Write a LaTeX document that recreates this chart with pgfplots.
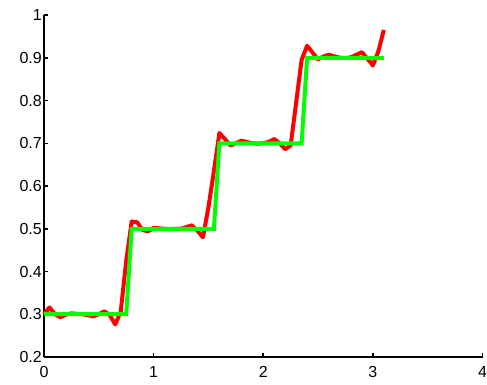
\documentclass[border=0pt]{standalone}
\usepackage{pgfplots}
\pgfplotsset{compat=1.18}
\usepackage{fontspec}
\setmainfont{Liberation Sans}

% Fourier-type approximation of the quantised ramp, sampled every 0.05
\pgfplotstableread{
x     y
0.00  0.300
0.05  0.316
0.10  0.300
0.15  0.293
0.20  0.299
0.25  0.302
0.30  0.301
0.35  0.300
0.40  0.298
0.45  0.295
0.50  0.300
0.55  0.307
0.60  0.298
0.65  0.276
0.70  0.306
0.75  0.425
0.80  0.517
0.85  0.515
0.90  0.497
0.95  0.494
1.00  0.502
1.05  0.501
1.10  0.500
1.15  0.499
1.20  0.500
1.25  0.500
1.30  0.504
1.35  0.508
1.40  0.495
1.45  0.480
1.50  0.550
1.55  0.635
1.60  0.724
1.65  0.710
1.70  0.695
1.75  0.700
1.80  0.706
1.85  0.703
1.90  0.700
1.95  0.699
2.00  0.700
2.05  0.703
2.10  0.710
2.15  0.700
2.20  0.686
2.25  0.695
2.30  0.795
2.35  0.895
2.40  0.928
2.45  0.912
2.50  0.896
2.55  0.903
2.60  0.907
2.65  0.903
2.70  0.900
2.75  0.899
2.80  0.901
2.85  0.907
2.90  0.913
2.95  0.898
3.00  0.882
3.05  0.915
3.10  0.965
}\approxdata

% Quantised levels
\pgfplotstableread{
x     y
0.00  0.3
0.75  0.3
0.80  0.5
1.55  0.5
1.60  0.7
2.35  0.7
2.40  0.9
3.10  0.9
}\stairdata

\begin{document}
\begin{tikzpicture}
\begin{axis}[
  at={(0pt,0pt)}, anchor=south west,
  scale only axis, width=438.5pt, height=342pt,
  xmin=0, xmax=4, ymin=0.2, ymax=1,
  axis lines=left,
  axis line style={-, line width=2pt, black},
  xtick={0,1,2,3,4},
  ytick={0.2,0.3,0.4,0.5,0.6,0.7,0.8,0.9,1},
  tick align=inside, major tick length=4pt,
  every tick/.style={black, line width=1.5pt},
  /pgf/number format/assume math mode=true,
  tick label style={font=\fontsize{16}{19}\selectfont, inner sep=0pt},
  xticklabel style={anchor=north, yshift=-9.5pt},
  yticklabel style={anchor=east, xshift=-2pt},
  clip=false,
]
\addplot[color=red, line width=4pt, line join=round] table[x=x, y=y] {\approxdata};
\addplot[color=green, line width=4pt, line join=miter] table[x=x, y=y] {\stairdata};
\end{axis}
\pgfresetboundingbox
\path[use as bounding box] (-44pt,-28pt) rectangle (443pt,357pt);
\end{tikzpicture}
\end{document}
